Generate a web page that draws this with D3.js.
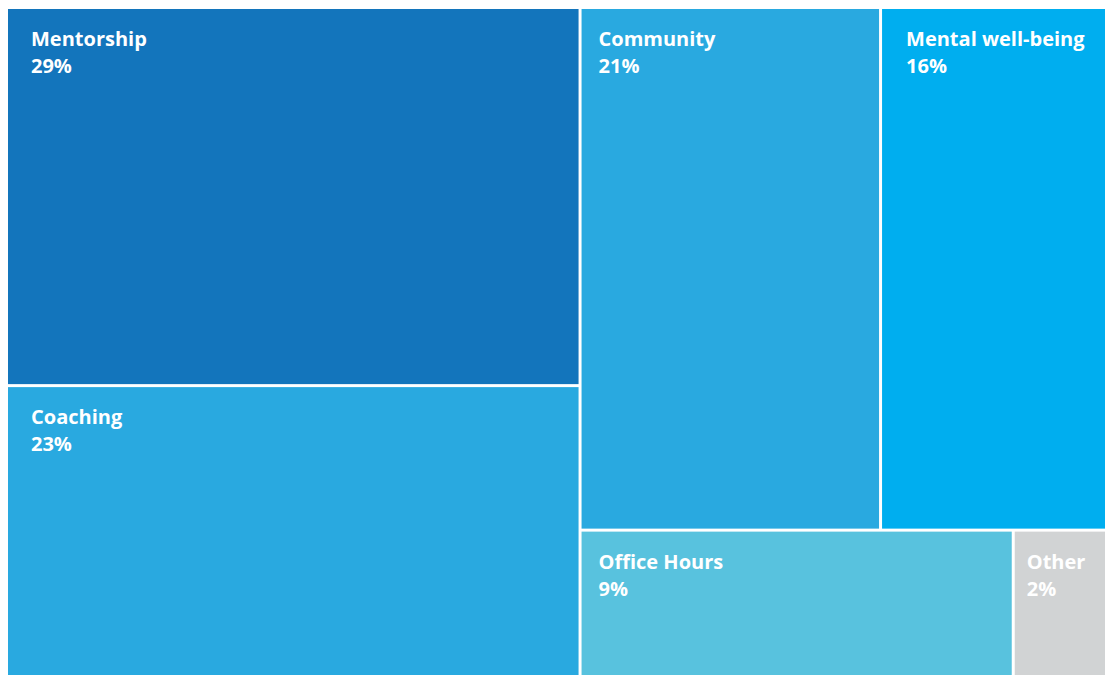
<!DOCTYPE html>
<html>
<head>
<meta charset="utf-8">
<script src="https://cdn.jsdelivr.net/npm/d3@7"></script>
<style>
  html, body { margin: 0; padding: 0; background: #ffffff; }
  svg { display: block; }
</style>
</head>
<body>
<svg id="chart" width="1105" height="675"></svg>
<script>
const categories = ["Mentorship", "Coaching", "Community", "Mental well-being", "Office Hours", "Other"];
const values = [29, 23, 21, 16, 9, 2];
const colors = ["#1375BC", "#29A9E0", "#29A9E0", "#00AEEF", "#58C2DE", "#D1D3D4"];
// label inset from each tile's left edge (styling only)
const labelInset = [23, 23, 17, 24, 17, 12];

const svg = d3.select("#chart");
const g = svg.append("g").attr("transform", "translate(8,9)");

const data = {
  name: "root",
  children: categories.map((c, i) => ({ name: c, value: values[i], color: colors[i], inset: labelInset[i] }))
};
const total = d3.sum(values);

const root = d3.hierarchy(data).sum(d => d.value || 0).sort((a, b) => b.value - a.value);
d3.treemap().tile(d3.treemapSquarify).size([1100, 675]).paddingInner(3)(root);

const leaf = g.selectAll("g.leaf").data(root.leaves()).join("g")
  .attr("class", "leaf")
  .attr("transform", d => `translate(${d.x0},${d.y0})`);

leaf.append("rect")
  .attr("width", d => d.x1 - d.x0)
  .attr("height", d => d.y1 - d.y0)
  .attr("fill", d => d.data.color);

const fmt = d3.format(".0%");
const style = t => t
  .attr("fill", "#ffffff")
  .style("font-family", "'Open Sans', 'DejaVu Sans', sans-serif")
  .style("font-weight", "700")
  .style("font-size", "20px");
leaf.append("text").call(style)
  .attr("x", d => d.data.inset).attr("y", 37)
  .text(d => d.data.name);
leaf.append("text").call(style)
  .attr("x", d => d.data.inset).attr("y", 64)
  .text(d => fmt(d.data.value / total));
</script>
</body>
</html>
